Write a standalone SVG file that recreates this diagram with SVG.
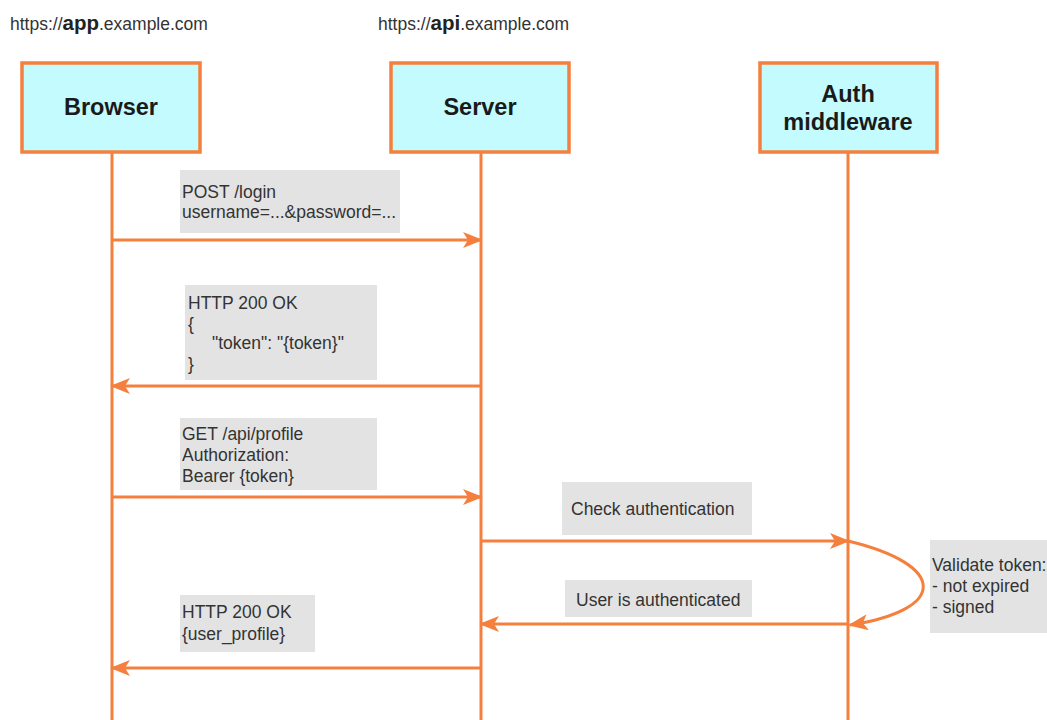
<svg xmlns="http://www.w3.org/2000/svg" width="1047" height="720" viewBox="0 0 1047 720">
  <style>
    .host { font-family: "Liberation Sans", Arial, sans-serif; font-size: 17.5px; fill: #333; }
    .host tspan.b { font-weight: bold; font-size: 20.5px; fill: #222; }
    .actor rect { fill: #c4fbff; stroke: #f5803e; stroke-width: 3.5; }
    .actor text { font-family: "Liberation Sans", Arial, sans-serif; font-size: 23.5px; font-weight: bold; fill: #1a1a1a; text-anchor: middle; }
    .life { stroke: #f5803e; stroke-width: 3; fill: none; }
    .msg { stroke: #f5803e; stroke-width: 3; fill: none; marker-end: url(#arrow); }
    .note rect { fill: #e3e3e3; }
    .note text { font-family: "Liberation Sans", Arial, sans-serif; font-size: 17.5px; fill: #333; }
  </style>
  <defs>
    <marker id="arrow" viewBox="0 0 20 16" refX="18" refY="8" markerWidth="20" markerHeight="16" markerUnits="userSpaceOnUse" orient="auto">
      <path d="M0,0 L20,8 L0,16 L5,8 Z" fill="#f5803e"/>
    </marker>
  </defs>
  <rect width="1047" height="720" fill="#ffffff"/>

  <!-- origin hosts -->
  <text class="host" x="10" y="30">https://<tspan class="b">app</tspan>.example.com</text>
  <text class="host" x="378" y="30">https://<tspan class="b">api</tspan>.example.com</text>

  <!-- lifelines -->
  <g id="lifelines">
    <line class="life" x1="112" y1="152" x2="112" y2="720"/>
    <line class="life" x1="481" y1="152" x2="481" y2="720"/>
    <line class="life" x1="848" y1="152" x2="848" y2="720"/>
  </g>

  <!-- participants -->
  <g id="browser" class="actor">
    <rect x="22" y="63" width="178" height="89"/>
    <text x="111" y="115">Browser</text>
  </g>
  <g id="server" class="actor">
    <rect x="391" y="63" width="178" height="89"/>
    <text x="480" y="115">Server</text>
  </g>
  <g id="auth" class="actor">
    <rect x="760" y="63" width="177" height="89"/>
    <text x="848" y="102">Auth</text>
    <text x="848" y="130">middleware</text>
  </g>

  <!-- message labels -->
  <g id="note-login" class="note">
    <rect x="180" y="170" width="220" height="63"/>
    <text x="182" y="198">POST /login</text>
    <text x="182" y="218">username=...&amp;password=...</text>
  </g>
  <g id="note-token" class="note">
    <rect x="185" y="285" width="192" height="95"/>
    <text x="188" y="309">HTTP 200 OK</text>
    <text x="188" y="330">{</text>
    <text x="212" y="349">"token": "{token}"</text>
    <text x="188" y="370">}</text>
  </g>
  <g id="note-profile-req" class="note">
    <rect x="180" y="418" width="197" height="72"/>
    <text x="182" y="440">GET /api/profile</text>
    <text x="182" y="461">Authorization:</text>
    <text x="182" y="482">Bearer {token}</text>
  </g>
  <g id="note-check" class="note">
    <rect x="562" y="482" width="190" height="53"/>
    <text x="571" y="515">Check authentication</text>
  </g>
  <g id="note-validate" class="note">
    <rect x="930" y="540" width="117" height="93"/>
    <text x="932" y="571">Validate token:</text>
    <text x="932" y="592">- not expired</text>
    <text x="932" y="613">- signed</text>
  </g>
  <g id="note-authenticated" class="note">
    <rect x="565" y="580" width="187" height="37"/>
    <text x="576" y="606">User is authenticated</text>
  </g>
  <g id="note-profile-res" class="note">
    <rect x="180" y="595" width="135" height="57"/>
    <text x="182" y="618">HTTP 200 OK</text>
    <text x="182" y="640">{user_profile}</text>
  </g>

  <!-- messages -->
  <g id="connectors">
    <line class="msg" x1="112" y1="240" x2="481" y2="240"/>
    <line class="msg" x1="481" y1="386" x2="112" y2="386"/>
    <line class="msg" x1="112" y1="497" x2="481" y2="497"/>
    <line class="msg" x1="481" y1="541" x2="848" y2="541"/>
    <path class="msg" d="M848,541 C948,565 948,610 850,625"/>
    <line class="msg" x1="848" y1="624" x2="481" y2="624"/>
    <line class="msg" x1="481" y1="668" x2="112" y2="668"/>
  </g>
</svg>
